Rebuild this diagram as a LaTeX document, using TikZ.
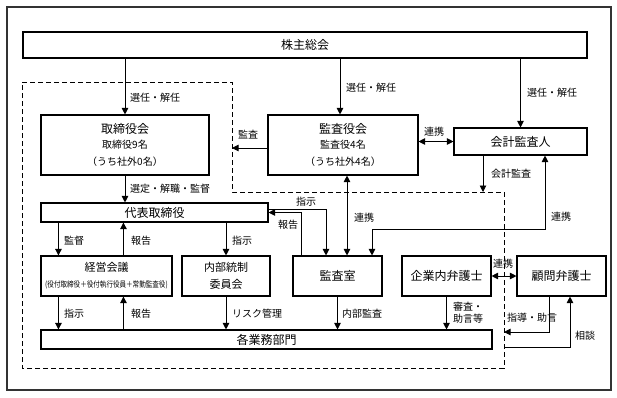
\documentclass[tikz,border=0pt]{standalone}
\usepackage{fontspec}
\setmainfont{Noto Sans CJK JP}
\usetikzlibrary{arrows.meta}
\tikzset{
  box/.style={draw, line width=1.1pt, inner sep=0pt, align=center, font=\fontsize{12}{14}\selectfont},
  arr/.style={line width=0.9pt, -{Triangle[length=6.5pt,width=6.5pt]}},
  arrtwo/.style={line width=0.9pt, {Triangle[length=6.5pt,width=6.5pt]}-{Triangle[length=6.5pt,width=6.5pt]}},
  lbl/.style={anchor=west, inner sep=0pt, font=\fontsize{10}{11.5}\selectfont},
  dsh/.style={line width=1pt, dash pattern=on 5pt off 3pt},
  sub/.style={font=\fontsize{10}{12}\selectfont}
}
\begin{document}
\begin{tikzpicture}[x=1pt,y=-1pt]
\useasboundingbox (0,0) rectangle (617,397);
% outer frame
\draw[line width=1.8pt, draw=black!80] (7,7) rectangle (611,390);
% dashed region
\draw[dsh] (22,82) -- (232,82) -- (232,192) -- (504,192) -- (504,368) -- (22,368) -- cycle;

% boxes
\node[box, minimum width=564pt, minimum height=26pt] (sh) at (305,45) {株主総会};
\node[box, minimum width=168pt, minimum height=60pt] (tb) at (125,145)
  {取締役会\\[1pt]{\fontsize{10}{12}\selectfont 取締役9名}\\[3pt]{\fontsize{10}{12}\selectfont （うち社外0名）}};
\node[box, minimum width=150pt, minimum height=60pt] (ka) at (343,145)
  {監査役会\\[1pt]{\fontsize{10}{12}\selectfont 監査役4名}\\[3pt]{\fontsize{10}{12}\selectfont （うち社外4名）}};
\node[box, minimum width=133pt, minimum height=27pt] (kk) at (520.5,141.5) {会計監査人};
\node[box, minimum width=227pt, minimum height=19pt] (dt) at (154.5,212.5) {代表取締役};
\node[box, minimum width=131pt, minimum height=40pt, font=\fontsize{11}{14}\selectfont] (kei) at (106.5,276)
  {経営会議\\[2pt]\scalebox{0.82}[1]{\fontsize{8}{9}\selectfont (役付取締役＋役付執行役員＋常勤監査役)}};
\node[box, minimum width=88pt, minimum height=40pt, font=\fontsize{11}{17}\selectfont] (nai) at (226,276) {内部統制\\委員会};
\node[box, minimum width=89pt, minimum height=40pt] (kan) at (337.5,276) {監査室};
\node[box, minimum width=89pt, minimum height=40pt] (kb) at (446.5,276) {企業内弁護士};
\node[box, minimum width=89pt, minimum height=40pt] (km) at (561.5,276) {顧問弁護士};
\node[box, minimum width=451pt, minimum height=19pt] (gb) at (266.5,339.5) {各業務部門};

% free ends on the dashed line
\coordinate (dl) at (232,148);
\coordinate (dk) at (483,192);
\coordinate (dj) at (504,332);
\coordinate (ds) at (504,347);

% connectors
\draw[arr] (tb.north |- sh.south) -- (tb.north);
\draw[arr] ([xshift=-3pt]ka.north |- sh.south) -- ([xshift=-3pt]ka.north);
\draw[arr] (kk.north |- sh.south) -- (kk.north);
\draw[arr] (ka.west |- dl) -- (dl);
\draw[arrtwo] (kk.west -| ka.east) -- (kk.west);
\draw[arr] (kk.south -| dk) -- (dk);
\draw[arr] (tb.south) -- (tb.south |- dt.north);
\draw[arr] ([xshift=18pt]kei.north west |- dt.south) -- ([xshift=18pt]kei.north west);
\draw[arr] ([xshift=83pt]kei.north west) -- ([xshift=83pt]kei.north west |- dt.south);
\draw[arr] (nai.north |- dt.south) -- (nai.north);
\draw[arr] ([xshift=18pt]kei.south west) -- ([xshift=18pt]kei.south west |- gb.north);
\draw[arr] ([xshift=83pt]kei.south west |- gb.north) -- ([xshift=83pt]kei.south west);
\draw[arr] (nai.south) -- (nai.south |- gb.north);
\draw[arr] ([yshift=3.5pt]dt.east) -| ([xshift=-11.5pt]kan.north);
\draw[arr] ([xshift=9pt]kan.north west) |- (dt.east);
\draw[arrtwo] ([xshift=4pt]ka.south) -- ([xshift=4pt]ka.south |- kan.north);
\draw[arrtwo] ([xshift=34.5pt]kan.north) -- ++(0,-26) -| ([xshift=24.5pt]kk.south);
\draw[arr] (kan.south) -- (kan.south |- gb.north);
\draw[arr] (kb.south) -- (kb.south |- gb.north);
\draw[arrtwo] (kb.east) -- (km.west);
\draw[arr] ([xshift=-12.5pt]km.south) |- (dj);
\draw[arr] (ds) -| ([xshift=8.5pt]km.south);

% labels
\node[lbl] (l1) at (130,98) {選任・解任};
\node[lbl] (l2) at (346,88) {選任・解任};
\node[lbl] (l3) at (527,93) {選任・解任};
\node[lbl] (l4) at (238,135) {監査};
\node[lbl] (l5) at (424,132) {連携};
\node[lbl] (l6) at (491,174) {会計監査};
\node[lbl] (l7) at (130,189) {選定・解職・監督};
\node[lbl] (l8) at (296,202) {指示};
\node[lbl] (l9) at (278,225) {報告};
\node[lbl] (l10) at (354,218) {連携};
\node[lbl] (l11) at (551,217) {連携};
\node[lbl] (l12) at (64,241) {監督};
\node[lbl] (l13) at (131,241) {報告};
\node[lbl] (l14) at (232,241) {指示};
\node[lbl] (l15) at (64,314) {指示};
\node[lbl] (l16) at (131,314) {報告};
\node[lbl] (l17) at (232,314) {リスク管理};
\node[lbl] (l18) at (342,314) {内部監査};
\node[lbl, align=left] (l19) at (453,312.5) {審査・\\助言等};
\node[lbl] (l20) at (507,318) {指導・助言};
\node[lbl] (l21) at (575,336) {相談};
\node[lbl] (l22) at (493,264) {連携};
\end{tikzpicture}
\end{document}
